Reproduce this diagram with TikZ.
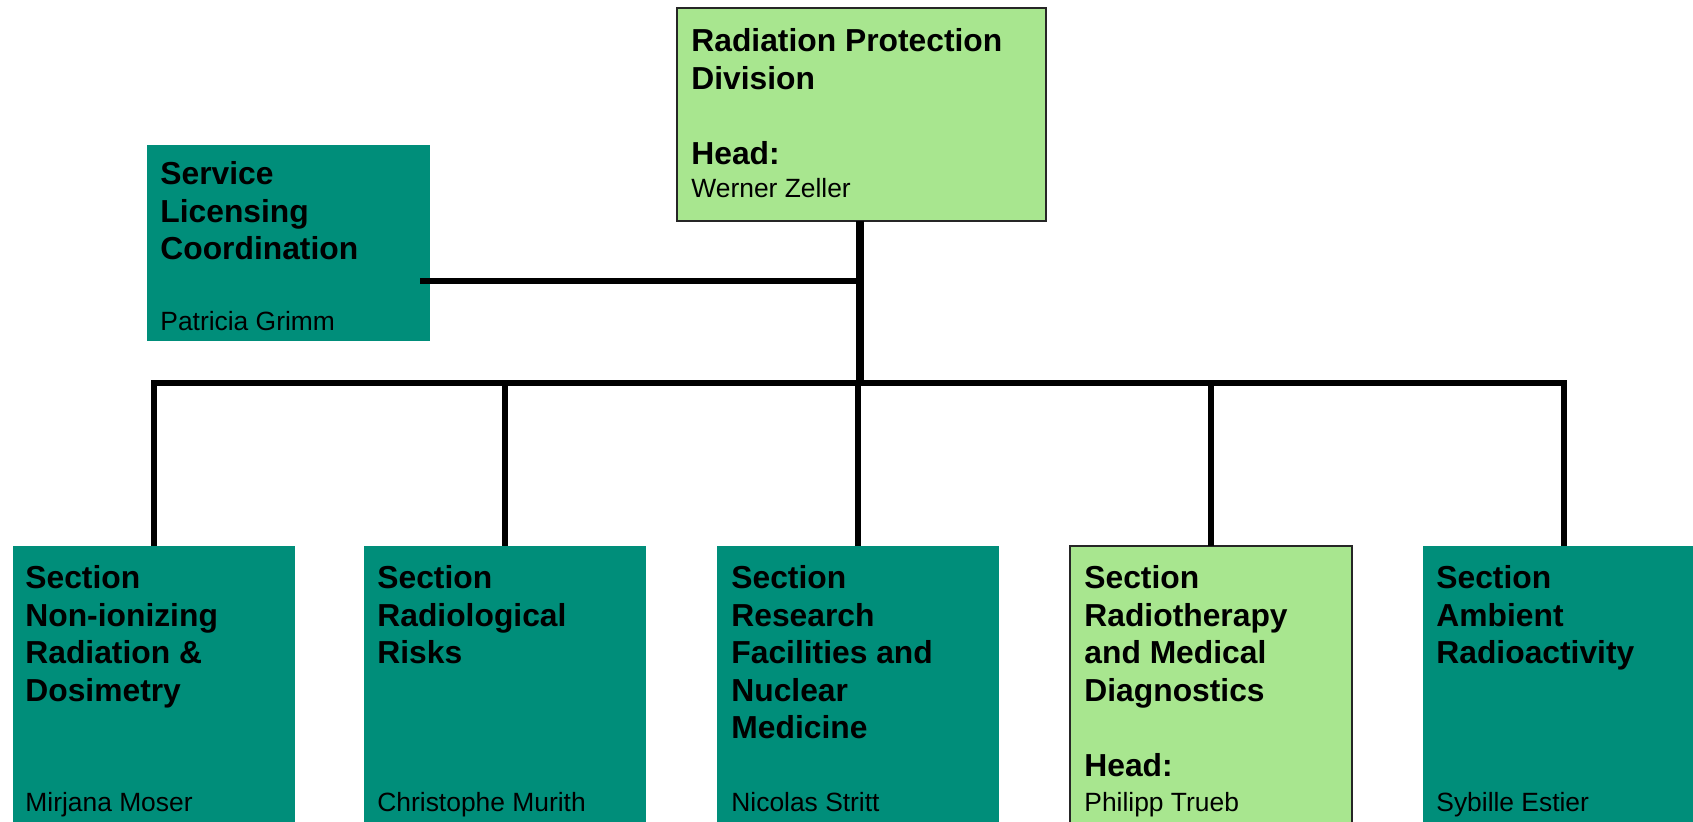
\documentclass[tikz,border=0pt]{standalone}
\usepackage{fontspec}
\setmainfont{Liberation Sans}
\usetikzlibrary{calc}

\definecolor{unitteal}{RGB}{0,142,122}
\definecolor{headgreen}{RGB}{168,230,143}

% multi-line label whose reference point is the first baseline
\newcommand{\unitlines}[1]{\begin{tabular}[t]{@{}l@{}}#1\end{tabular}}

\tikzset{
  unitbox/.style={rectangle, fill=unitteal, inner sep=0pt, outer sep=0pt,
    anchor=north west, minimum width=141pt, minimum height=142pt},
  headbox/.style={unitbox, fill=headgreen, draw=black!85, line width=0.8pt},
  titletext/.style={anchor=base west, inner sep=0pt, text=black,
    font=\fontsize{15.9pt}{18.75pt}\selectfont\bfseries},
  nametext/.style={anchor=base west, inner sep=0pt, text=black,
    font=\fontsize{13.2pt}{16pt}\selectfont},
  trunk/.style={line width=4pt, black},
  link/.style={line width=3pt, black, line join=miter},
}

\begin{document}
\begin{tikzpicture}[x=0.5pt, y=-0.5pt]
\useasboundingbox (0,0) rectangle (1693,822);
\clip (0,0) rectangle (1693,822);

% division head
\node[headbox, minimum width=184.5pt, minimum height=106.5pt] (top) at (677,8) {};
\node[titletext] (toptitle) at ([shift={(14,44)}]top.north west)
  {\unitlines{Radiation Protection\\Division\\ \\Head:}};
\node[nametext] (topname) at ([shift={(14,190)}]top.north west) {Werner Zeller};

% staff unit
\node[unitbox, minimum width=141.5pt, minimum height=98pt] (svc) at (147,145) {};
\node[titletext] (svctitle) at ([shift={(13,40)}]svc.north west)
  {\unitlines{Service\\Licensing\\Coordination}};
\node[nametext] (svcname) at ([shift={(13,186)}]svc.north west) {Patricia Grimm};

% sections
\node[unitbox] (s1) at (13,546) {};
\node[unitbox] (s2) at (364,546) {};
\node[unitbox] (s3) at (717,546) {};
\node[headbox] (s4) at (1070,546) {};
\node[unitbox] (s5) at (1423,546) {};

\node[titletext] (s1title) at ([shift={(12,43)}]s1.north west)
  {\unitlines{Section\\Non-ionizing\\Radiation \&\\Dosimetry}};
\node[nametext] (s1name) at ([shift={(12,266)}]s1.north west) {Mirjana Moser};

\node[titletext] (s2title) at ([shift={(13,43)}]s2.north west)
  {\unitlines{Section\\Radiological\\Risks}};
\node[nametext] (s2name) at ([shift={(13,266)}]s2.north west) {Christophe Murith};

\node[titletext] (s3title) at ([shift={(14,43)}]s3.north west)
  {\unitlines{Section\\Research\\Facilities and\\Nuclear\\Medicine}};
\node[nametext] (s3name) at ([shift={(14,266)}]s3.north west) {Nicolas Stritt};

\node[titletext] (s4title) at ([shift={(14,43)}]s4.north west)
  {\unitlines{Section\\Radiotherapy\\and Medical\\Diagnostics\\ \\Head:}};
\node[nametext] (s4name) at ([shift={(14,266)}]s4.north west) {Philipp Trueb};

\node[titletext] (s5title) at ([shift={(13,43)}]s5.north west)
  {\unitlines{Section\\Ambient\\Radioactivity}};
\node[nametext] (s5name) at ([shift={(13,266)}]s5.north west) {Sybille Estier};

% connectors
\coordinate (bus) at (860,383);
\coordinate (svcjoin) at (860,281);
\draw[link] ([xshift=-5pt]svc.east |- svcjoin) -- (svcjoin);
\draw[link] (s1.north) -- (s1.north |- bus) -- (s5.north |- bus) -- (s5.north);
\draw[link] (s2.north) -- (s2.north |- bus);
\draw[link] (s3.north) -- (s3.north |- bus);
\draw[link] (s4.north) -- (s4.north |- bus);
\draw[trunk] (top.south -| bus) -- (bus);
\end{tikzpicture}
\end{document}
